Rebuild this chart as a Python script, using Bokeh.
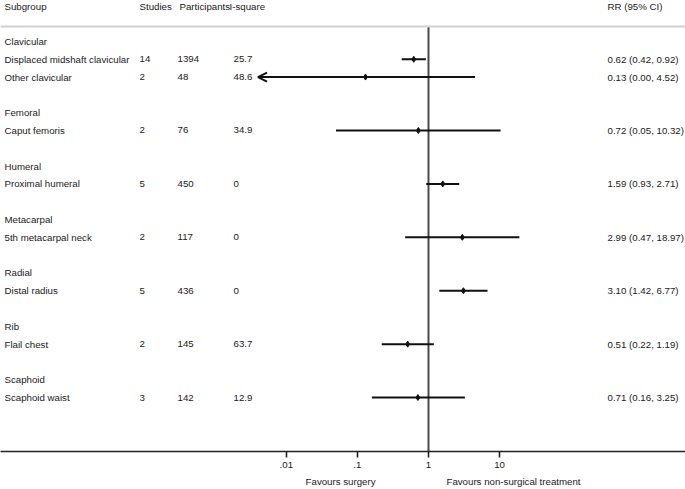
from bokeh.plotting import figure
from bokeh.models import (ColumnDataSource, Range1d, FixedTicker, LabelSet,
                          Span, Arrow, OpenHead, LogAxis)
from bokeh.core.properties import value
from bokeh.embed import file_html
from bokeh.resources import INLINE

# ---------------- data ----------------
groups = ["Clavicular", "Femoral", "Humeral", "Metacarpal", "Radial", "Rib", "Scaphoid"]
subgroups = ["Displaced midshaft clavicular", "Other clavicular", "Caput femoris",
             "Proximal humeral", "5th metacarpal neck", "Distal radius",
             "Flail chest", "Scaphoid waist"]
subgroup_group = [0, 0, 1, 2, 3, 4, 5, 6]
studies = [14, 2, 2, 5, 2, 5, 2, 3]
participants = [1394, 48, 76, 450, 117, 436, 145, 142]
i_square = ["25.7", "48.6", "34.9", "0", "0", "0", "63.7", "12.9"]
rr = [0.62, 0.13, 0.72, 1.59, 2.99, 3.10, 0.51, 0.71]
ci_low = [0.42, 0.00, 0.05, 0.93, 0.47, 1.42, 0.22, 0.16]
ci_high = [0.92, 4.52, 10.32, 2.71, 18.97, 6.77, 1.19, 3.25]

header_labels = ["Subgroup", "Studies", "Participants", "I-square", "RR (95% CI)"]
tick_values = [0.01, 0.1, 1, 10]
tick_labels = [".01", ".1", "1", "10"]
favours_labels = ["Favours surgery", "Favours non-surgical treatment"]
favours_x = [0.058, 15.7]

# ---------------- layout helpers ----------------
FONT = "Arial"
FS = "9.7px"
TXT = "#1a1a1a"
x_clip = 0.004   # lower display limit for CIs (arrow)

group_rows = []
sub_rows = [None] * len(subgroups)
r = 0
for gi, g in enumerate(groups):
    group_rows.append(r)
    r += 1
    for si, sg in enumerate(subgroup_group):
        if sg == gi:
            sub_rows[si] = r
            r += 1
    r += 1

header_row = -1.95
rule_row = -0.84
y_top = -2.30
y_bottom = 23.03

W, H = 685, 489
p = figure(width=W, height=H, output_backend="svg", toolbar_location=None,
           x_axis_type="log", x_range=Range1d(10 ** -6.02, 10 ** 3.615),
           y_range=Range1d(y_bottom, y_top), y_axis_location=None,
           min_border_left=0, min_border_right=0, min_border_top=0,
           min_border_bottom=37)
p.outline_line_color = None
p.xgrid.visible = False
p.ygrid.visible = False
p.background_fill_color = "white"
p.border_fill_color = "white"

ax = p.xaxis[0]
ax.ticker = FixedTicker(ticks=tick_values, minor_ticks=[])
ax.major_label_overrides = {v: l for v, l in zip(tick_values, tick_labels)}
ax.axis_line_color = "#222222"
ax.axis_line_width = 1.6
ax.major_tick_line_color = "#222222"
ax.major_tick_line_width = 1.6
ax.major_tick_out = 6
ax.major_tick_in = 0
ax.minor_tick_out = 0
ax.minor_tick_in = 0
ax.major_label_standoff = 4
ax.major_label_text_font = FONT
ax.major_label_text_font_size = FS
ax.major_label_text_color = TXT

# favours labels as a second bottom axis
fav = LogAxis(ticker=FixedTicker(ticks=favours_x, minor_ticks=[]),
              major_label_overrides={v: l for v, l in zip(favours_x, favours_labels)},
              axis_line_color=None, major_tick_line_color=None, minor_tick_line_color=None,
              major_tick_out=0, major_tick_in=0, minor_tick_out=0, minor_tick_in=0,
              major_label_standoff=5, major_label_text_font=FONT,
              major_label_text_font_size=FS, major_label_text_color=TXT)
p.add_layout(fav, "below")

# top rule
p.add_layout(Span(location=rule_row, dimension="width", line_color="#d2d2d2", line_width=2))

# line of no effect
p.segment(x0=[1], y0=[rule_row], x1=[1], y1=[y_bottom], line_color="#4a4a4a", line_width=2)

# CIs
full_idx = [i for i in range(len(rr)) if ci_low[i] >= x_clip]
clip_idx = [i for i in range(len(rr)) if ci_low[i] < x_clip]
ci_src = ColumnDataSource(dict(lo=[ci_low[i] for i in full_idx], hi=[ci_high[i] for i in full_idx],
                               y=[sub_rows[i] for i in full_idx]))
p.segment(x0="lo", y0="y", x1="hi", y1="y", source=ci_src, line_color="#111111", line_width=2)
arr_src = ColumnDataSource(dict(hi=[ci_high[i] for i in clip_idx], lo=[x_clip] * len(clip_idx),
                                y=[sub_rows[i] for i in clip_idx]))
p.add_layout(Arrow(end=OpenHead(size=9, line_width=2, line_color="#111111"),
                   x_start="hi", y_start="y", x_end="lo", y_end="y", source=arr_src,
                   line_color="#111111", line_width=2))

pt_src = ColumnDataSource(dict(x=rr, y=sub_rows))
p.scatter(x="x", y="y", source=pt_src, marker="diamond", size=6,
          fill_color="#111111", line_color="#111111")

# table text
tab = ColumnDataSource(dict(
    y=sub_rows, name=subgroups, st=[str(s) for s in studies],
    pa=[str(v) for v in participants], isq=i_square,
    rrt=[f"{a:.2f} ({b:.2f}, {c:.2f})" for a, b, c in zip(rr, ci_low, ci_high)]))
grp = ColumnDataSource(dict(y=group_rows, name=groups))
hdr = ColumnDataSource(dict(y=[header_row] * 5, name=header_labels,
                            xs=[4, 139, 179, 229, 607]))

def lab(src, xcol_or_val, textcol):
    ls = LabelSet(x=xcol_or_val, y="y", text=textcol, source=src, x_units="screen",
                  text_font=value(FONT), text_font_size=value(FS), text_color=value(TXT),
                  text_baseline="middle", text_align="left")
    p.add_layout(ls)

lab(hdr, "xs", "name")
lab(grp, 4, "name")
lab(tab, 4, "name")
lab(tab, 139, "st")
lab(tab, 177, "pa")
lab(tab, 233, "isq")
lab(tab, 607, "rrt")

open("out.html", "w").write(file_html(p, INLINE))
